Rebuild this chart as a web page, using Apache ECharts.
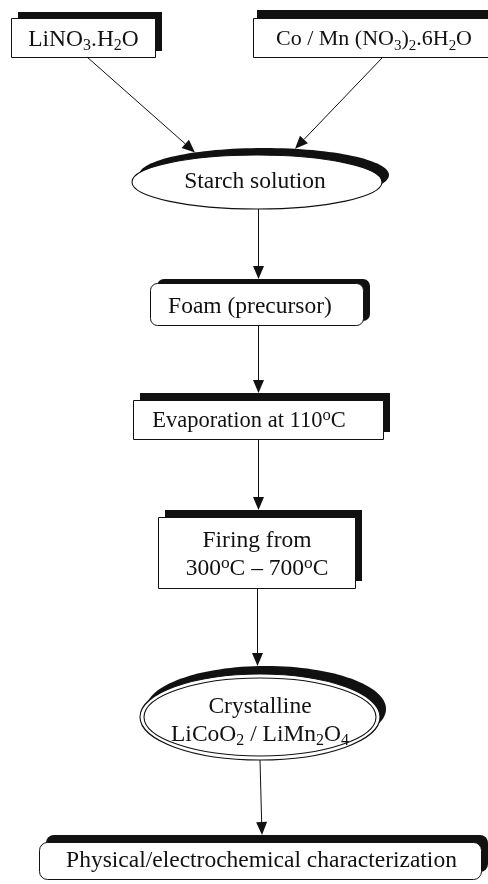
<!DOCTYPE html>
<html><head><meta charset="utf-8">
<script src="https://cdn.jsdelivr.net/npm/echarts@6/dist/echarts.min.js"></script>
<style>html,body{margin:0;padding:0;background:#fff}#c{width:488px;height:884px}</style>
</head><body><div id="c"></div>
<script>
// ---- content ----
const nodeLabels = [
  '{t|LiNO}{sub|3}{t|.H}{sub|2}{t|O}',
  '{t|Co / Mn (NO}{sub|3}{t|)}{sub|2}{t|.6H}{sub|2}{t|O}',
  '{t|Starch solution}',
  '{t|Foam (precursor)}',
  '{t|Evaporation at 110}{sup|o}{t|C}',
  '{t|Firing from}\n{t|300}{sup|o}{t|C – 700}{sup|o}{t|C}',
  '{t|Crystalline}\n{t|LiCoO}{sub|2}{t| / LiMn}{sub|2}{t|O}{sub|4}',
  '{t|Physical/electrochemical characterization}'
];
const nodeKinds = ['box', 'box', 'ellipse', 'round', 'box', 'box', 'double', 'round'];
const edges = [[0, 2], [1, 2], [2, 3], [3, 4], [4, 5], [5, 6], [6, 7]];

// ---- layout (separate from content) ----
const nodeLayout = [
  {cx: 83,    cy: 37.5,  w: 144, h: 39, sx: 7, sy: -6, tx: 83.5,  ty: 39.5,  fs: 23.5},
  {cx: 374,   cy: 37.5,  w: 242, h: 39, sx: 4, sy: -8, tx: 374,   ty: 39.5,  fs: 22},
  {cx: 257,   cy: 182,   w: 250, h: 54, sx: 7, sy: -7, tx: 255,   ty: 182,   fs: 23.5},
  {cx: 256.5, cy: 304,   w: 213, h: 42, sx: 7, sy: -4, tx: 250,   ty: 306.5, fs: 23.5, r: 7},
  {cx: 258,   cy: 419.5, w: 250, h: 39, sx: 7, sy: -7, tx: 249,   ty: 421,   fs: 22.5},
  {cx: 256.5, cy: 552.5, w: 197, h: 71, sx: 7, sy: -7, tx: 257,   ty: 554.5, fs: 23.5},
  {cx: 260,   cy: 717,   w: 240, h: 86, sx: 6, sy: -8, tx: 260,   ty: 721,   fs: 23.5},
  {cx: 260,   cy: 860.5, w: 442, h: 37, sx: 7, sy: -7, tx: 261.5, ty: 860.5, fs: 23.5, r: 8}
];
const edgeAnchors = [[0.056, -0.496], [0.074, 0.304], [0.004, null], [0.014, null], [0, null], [0.005, null], [0, 0.009]];

const FONT = "'Liberation Serif', 'Times New Roman', serif";
const INK = '#111';

function richFor(fs) {
  return {
    t: {fontFamily: FONT, fontSize: fs, lineHeight: 28, fill: INK},
    sub: {fontFamily: FONT, fontSize: fs * 0.68, lineHeight: 14, verticalAlign: 'bottom', fill: INK},
    sup: {fontFamily: FONT, fontSize: fs * 0.74, lineHeight: 5, verticalAlign: 'top', fill: INK}
  };
}

function renderNode(params, api) {
  const i = params.dataIndex;
  const n = nodeLayout[i];
  const kind = nodeKinds[i];
  const c = api.coord([n.cx, n.cy]);
  const cs = api.coord([n.cx + n.sx, n.cy + n.sy]);
  const sz = api.size([n.w, n.h]);
  const w = sz[0], h = Math.abs(sz[1]);
  const children = [];
  if (kind === 'box' || kind === 'round') {
    const r = kind === 'round' ? (n.r || 6) : 0;
    children.push({type: 'rect', shape: {x: cs[0] - w / 2, y: cs[1] - h / 2, width: w, height: h, r: r},
      style: {fill: INK}});
    children.push({type: 'rect', shape: {x: Math.round(c[0] - w / 2) + 0.5, y: Math.round(c[1] - h / 2) + 0.5, width: Math.round(w), height: Math.round(h), r: r},
      style: {fill: '#fff', stroke: INK, lineWidth: 1}});
  } else {
    children.push({type: 'ellipse', shape: {cx: cs[0], cy: cs[1], rx: w / 2, ry: h / 2},
      style: {fill: INK}});
    children.push({type: 'ellipse', shape: {cx: c[0], cy: c[1], rx: w / 2, ry: h / 2},
      style: {fill: '#fff', stroke: INK, lineWidth: 1.1}});
    if (kind === 'double') {
      children.push({type: 'ellipse', shape: {cx: c[0], cy: c[1], rx: w / 2 - 4, ry: h / 2 - 4},
        style: {fill: 'none', stroke: INK, lineWidth: 1.1}});
    }
  }
  const t = api.coord([n.tx, n.ty]);
  children.push({type: 'text', x: t[0], y: t[1],
    style: {text: nodeLabels[i], rich: richFor(n.fs), align: 'center', verticalAlign: 'middle', fill: INK,
      fontFamily: FONT, fontSize: n.fs}});
  return {type: 'group', children: children};
}

function targetTip(n, kind, x) {
  if (kind === 'box' || kind === 'round') return n.cy - n.h / 2 + n.sy;
  const rx = n.w / 2, ry = n.h / 2;
  const d = (x - n.cx - n.sx) / rx;
  return n.cy + n.sy - ry * Math.sqrt(Math.max(0, 1 - d * d));
}

function renderEdge(params, api) {
  const k = params.dataIndex;
  const e = edges[k], a = edgeAnchors[k];
  const s = nodeLayout[e[0]], t = nodeLayout[e[1]];
  const x1 = s.cx + a[0] * s.w / 2;
  const y1 = s.cy + s.h / 2;
  const x2 = a[1] === null ? x1 : t.cx + a[1] * t.w / 2;
  const y2 = targetTip(t, nodeKinds[e[1]], x2);
  const p1 = api.coord([x1, y1]), p2 = api.coord([x2, y2]);
  let px1 = p1[0], px2 = p2[0];
  if (a[1] === null) { px1 = px2 = Math.round(px1) + 0.5; }
  const dx = px2 - px1, dy = p2[1] - p1[1];
  const L = Math.sqrt(dx * dx + dy * dy);
  const ux = dx / L, uy = dy / L;
  const HL = 13, HW = 5.5;
  const bx = px2 - ux * HL, by = p2[1] - uy * HL;
  return {type: 'group', children: [
    {type: 'line', shape: {x1: px1, y1: p1[1], x2: bx, y2: by}, style: {stroke: INK, lineWidth: 1}},
    {type: 'polygon', shape: {points: [[px2, p2[1]], [bx - uy * HW, by + ux * HW], [bx + uy * HW, by - ux * HW]]},
      style: {fill: INK}}
  ]};
}

const chart = echarts.init(document.getElementById('c'), null, {renderer: 'canvas'});
chart.setOption({
  animation: false,
  backgroundColor: '#fff',
  grid: {left: 0, right: 0, top: 0, bottom: 0},
  xAxis: {type: 'value', min: 0, max: 488, show: false},
  yAxis: {type: 'value', min: 0, max: 884, inverse: true, show: false},
  series: [
    {type: 'custom', coordinateSystem: 'cartesian2d', renderItem: renderNode, clip: false, z: 2,
      data: nodeLayout.map(n => [n.cx, n.cy])},
    {type: 'custom', coordinateSystem: 'cartesian2d', renderItem: renderEdge, clip: false, z: 3,
      data: edges.map(e => [nodeLayout[e[0]].cx, nodeLayout[e[0]].cy])}
  ]
});
</script></body></html>
